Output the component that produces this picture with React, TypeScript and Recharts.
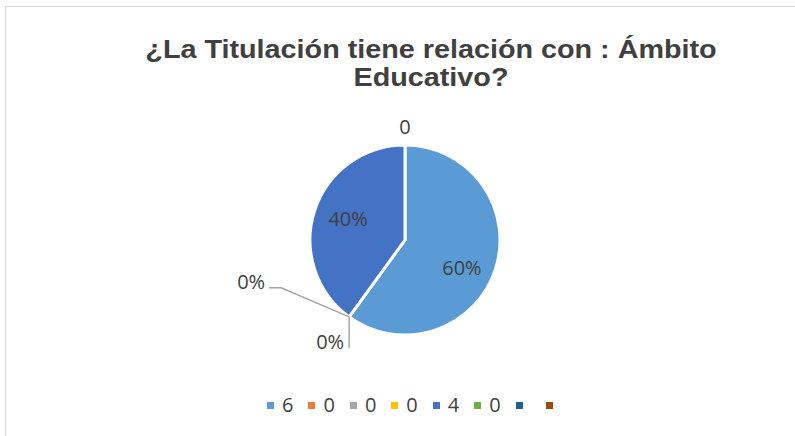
import { Legend, Pie, PieChart } from "recharts";

const categories = ["6", "0", "0", "0", "4", "0", "", ""];
const values = [6, 0, 0, 0, 4, 0, 0, 0];
const labelTexts = ["60%", "0%", "0%", "", "40%", "0", "", ""];
const colors = ["#5B9BD5", "#ED7D31", "#A5A5A5", "#FFC000", "#4472C4", "#70AD47", "#255E91", "#9E480E"];
const title = ["¿La Titulación tiene relación con : Ámbito", "Educativo?"];

const data = categories.map((name, i) => ({ name, value: values[i], fill: colors[i] }));

const TEXT_COLOR = "#404040";
const LABEL_FONT = "'Open Sans', 'Noto Sans', sans-serif";
const RAD = Math.PI / 180;

function renderLabel(props: any) {
  const { cx, cy, midAngle, outerRadius, index } = props;
  const text = labelTexts[index];
  if (!text) return <g />;
  const pt = (r: number) => ({
    x: cx + r * Math.cos(-midAngle * RAD),
    y: cy + r * Math.sin(-midAngle * RAD),
  });
  const style = { fontFamily: LABEL_FONT, fontSize: 20, fill: TEXT_COLOR };

  if (values[index] > 0) {
    // inside labels, nudged a bit like Excel's best fit
    const p = pt(outerRadius * 0.63);
    const dy = index === 0 ? 9 : -3;
    return (
      <text x={p.x} y={p.y + dy} textAnchor="middle" dominantBaseline="central" style={style}>
        {text}
      </text>
    );
  }

  const p0 = pt(outerRadius);
  if (index === 1) {
    // elbow leader to the left
    const ex = p0.x - 68;
    const ey = p0.y - 29;
    return (
      <g>
        <polyline
          points={`${p0.x},${p0.y} ${ex},${ey} ${ex - 12},${ey}`}
          fill="none"
          stroke="#A5A5A5"
          strokeWidth={1.5}
        />
        <text x={ex - 16} y={ey + 1} textAnchor="end" style={style}>
          {text}
        </text>
      </g>
    );
  }
  if (index === 2) {
    // straight leader going down
    return (
      <g>
        <line x1={p0.x} y1={p0.y} x2={p0.x} y2={p0.y + 31} stroke="#A5A5A5" strokeWidth={1.5} />
        <text x={p0.x - 5} y={p0.y + 32} textAnchor="end" style={style}>
          {text}
        </text>
      </g>
    );
  }
  const p = pt(outerRadius + 19);
  return (
    <text x={p.x} y={p.y} textAnchor="middle" dominantBaseline="central" style={style}>
      {text}
    </text>
  );
}

function LegendContent({ payload }: any) {
  return (
    <div style={{ display: "flex", alignItems: "center", paddingLeft: 267 }}>
      {(payload || []).map((entry: any, i: number) => (
        <div key={i} style={{ display: "flex", alignItems: "center", marginRight: 15 }}>
          <span style={{ width: 7, height: 7, background: entry.color, display: "inline-block", marginRight: 8 }} />
          <span style={{ fontFamily: LABEL_FONT, fontSize: 20, color: TEXT_COLOR, lineHeight: "20px" }}>
            {entry.value}
          </span>
        </div>
      ))}
    </div>
  );
}

export default function App() {
  return (
    <div style={{ position: "absolute", left: 0, top: 0, width: 795, height: 436, overflow: "hidden", background: "#fff" }}>
      <svg width={795} height={436} style={{ position: "absolute", left: 0, top: 0 }}>
        <line x1={5.5} y1={6} x2={5.5} y2={436} stroke="#D9D9D9" strokeWidth={1} />
        <line x1={5} y1={6.5} x2={795} y2={6.5} stroke="#D9D9D9" strokeWidth={1} />
        {title.map((t, i) => (
          <text
            key={i}
            x={0}
            y={0}
            textAnchor="middle"
            transform={`translate(431, ${58 + i * 28}) scale(1.15, 1)`}
            style={{ fontFamily: "'Liberation Sans', Arial, sans-serif", fontWeight: 700, fontSize: 25, fill: TEXT_COLOR }}
          >
            {t}
          </text>
        ))}
      </svg>
      <div style={{ position: "absolute", left: 0, top: 0 }}>
        <PieChart width={795} height={436} margin={{ top: 0, right: 0, bottom: 0, left: 0 }}>
          <Pie
            data={data}
            dataKey="value"
            nameKey="name"
            cx={405}
            cy={240}
            outerRadius={95}
            startAngle={90}
            endAngle={-270}
            stroke="#fff"
            strokeWidth={3}
            label={renderLabel}
            labelLine={false}
            isAnimationActive={false}
          />
          <Legend
            itemSorter={null}
            content={<LegendContent />}
            wrapperStyle={{ position: "absolute", left: 0, top: 395, width: 795 }}
          />
        </PieChart>
      </div>
    </div>
  );
}
